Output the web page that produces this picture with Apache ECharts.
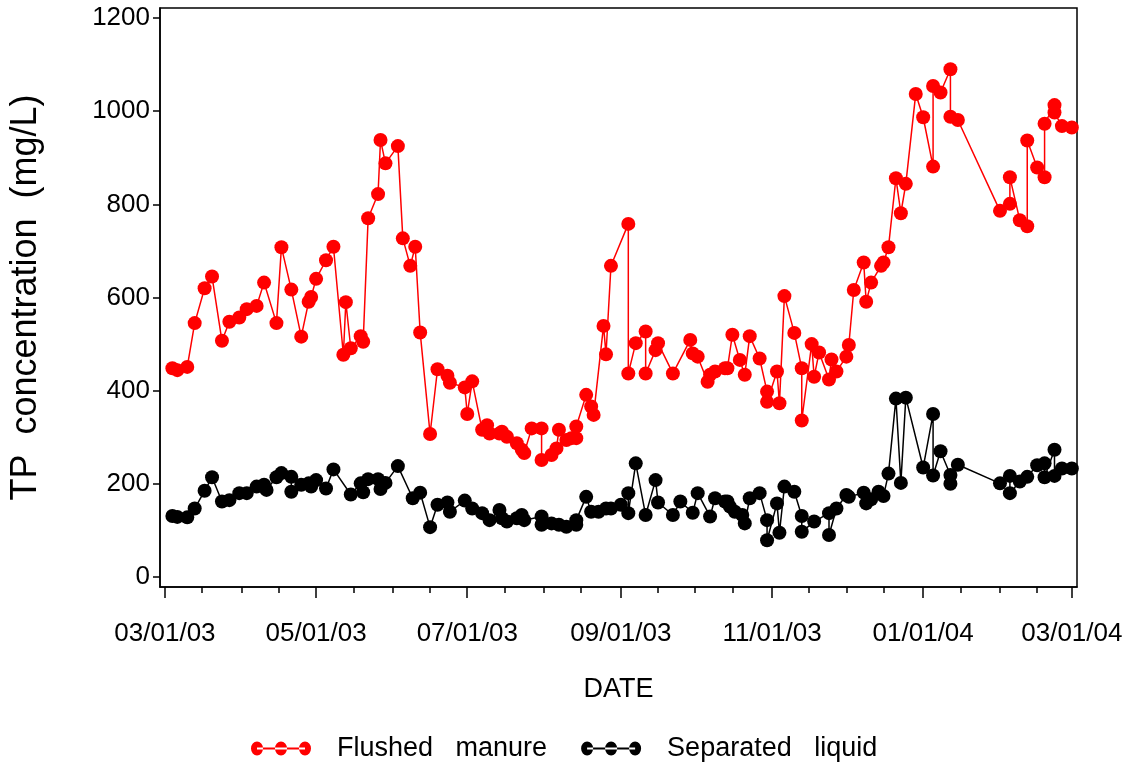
<!DOCTYPE html>
<html>
<head>
<meta charset="utf-8">
<script src="https://cdn.jsdelivr.net/npm/echarts@6/dist/echarts.min.js"></script>
<style>html,body{margin:0;padding:0;background:#fff}#c{width:1129px;height:763px}</style>
</head>
<body>
<div id="c"></div>
<script>
// ---- data ----
const flushedDates = ['2003-03-04','2003-03-06','2003-03-10','2003-03-13','2003-03-17','2003-03-20','2003-03-24','2003-03-27','2003-03-31','2003-04-03','2003-04-07','2003-04-10','2003-04-15','2003-04-17','2003-04-21','2003-04-25','2003-04-28','2003-04-29','2003-05-01','2003-05-05','2003-05-08','2003-05-12','2003-05-13','2003-05-15','2003-05-19','2003-05-20','2003-05-22','2003-05-26','2003-05-27','2003-05-29','2003-06-03','2003-06-05','2003-06-08','2003-06-10','2003-06-12','2003-06-16','2003-06-19','2003-06-23','2003-06-24','2003-06-30','2003-07-01','2003-07-03','2003-07-07','2003-07-09','2003-07-10','2003-07-14','2003-07-15','2003-07-17','2003-07-21','2003-07-23','2003-07-24','2003-07-27','2003-07-31','2003-07-31','2003-08-04','2003-08-06','2003-08-07','2003-08-10','2003-08-12','2003-08-14','2003-08-14','2003-08-18','2003-08-20','2003-08-21','2003-08-25','2003-08-26','2003-08-28','2003-09-04','2003-09-04','2003-09-07','2003-09-11','2003-09-11','2003-09-15','2003-09-16','2003-09-22','2003-09-29','2003-09-30','2003-10-02','2003-10-06','2003-10-07','2003-10-09','2003-10-13','2003-10-14','2003-10-16','2003-10-19','2003-10-21','2003-10-23','2003-10-27','2003-10-30','2003-10-30','2003-11-03','2003-11-04','2003-11-06','2003-11-10','2003-11-13','2003-11-13','2003-11-17','2003-11-18','2003-11-20','2003-11-24','2003-11-25','2003-11-27','2003-12-01','2003-12-02','2003-12-04','2003-12-08','2003-12-09','2003-12-11','2003-12-15','2003-12-16','2003-12-18','2003-12-21','2003-12-23','2003-12-25','2003-12-29','2004-01-01','2004-01-05','2004-01-05','2004-01-08','2004-01-12','2004-01-12','2004-01-15','2004-02-01','2004-02-05','2004-02-05','2004-02-09','2004-02-12','2004-02-12','2004-02-16','2004-02-19','2004-02-19','2004-02-23','2004-02-23','2004-02-26','2004-03-01'];
const flushedTP = [448,444,451,545,620,645,507,548,557,575,582,632,545,708,617,516,591,601,640,680,709,477,590,491,517,505,770,822,938,888,925,727,668,709,525,307,446,432,417,407,350,420,316,326,308,308,312,301,287,273,266,319,319,251,262,276,316,294,298,298,323,391,366,348,539,478,668,758,437,502,527,437,487,502,437,509,480,473,419,434,441,448,448,520,466,434,517,469,398,376,441,373,603,524,448,336,500,430,482,424,467,441,473,498,616,675,591,632,668,675,708,856,781,844,1037,987,881,1054,1040,1090,988,981,786,801,858,766,753,937,879,858,973,1013,997,968,965];

const liquidDates = ['2003-03-04','2003-03-06','2003-03-10','2003-03-13','2003-03-17','2003-03-20','2003-03-24','2003-03-27','2003-03-31','2003-04-03','2003-04-07','2003-04-10','2003-04-11','2003-04-15','2003-04-17','2003-04-21','2003-04-21','2003-04-25','2003-04-28','2003-04-29','2003-05-01','2003-05-05','2003-05-08','2003-05-15','2003-05-19','2003-05-20','2003-05-22','2003-05-26','2003-05-27','2003-05-29','2003-06-03','2003-06-09','2003-06-12','2003-06-16','2003-06-19','2003-06-23','2003-06-24','2003-06-30','2003-07-03','2003-07-07','2003-07-10','2003-07-14','2003-07-15','2003-07-17','2003-07-21','2003-07-23','2003-07-24','2003-07-31','2003-07-31','2003-08-04','2003-08-07','2003-08-10','2003-08-14','2003-08-14','2003-08-18','2003-08-20','2003-08-23','2003-08-26','2003-08-28','2003-09-01','2003-09-04','2003-09-04','2003-09-07','2003-09-11','2003-09-15','2003-09-16','2003-09-22','2003-09-25','2003-09-30','2003-10-02','2003-10-07','2003-10-09','2003-10-13','2003-10-14','2003-10-15','2003-10-17','2003-10-20','2003-10-21','2003-10-23','2003-10-27','2003-10-30','2003-10-30','2003-11-03','2003-11-04','2003-11-06','2003-11-10','2003-11-13','2003-11-13','2003-11-18','2003-11-24','2003-11-24','2003-11-27','2003-12-01','2003-12-02','2003-12-08','2003-12-09','2003-12-11','2003-12-14','2003-12-16','2003-12-18','2003-12-21','2003-12-23','2003-12-25','2004-01-01','2004-01-05','2004-01-05','2004-01-08','2004-01-12','2004-01-12','2004-01-15','2004-02-01','2004-02-05','2004-02-05','2004-02-09','2004-02-12','2004-02-16','2004-02-19','2004-02-19','2004-02-23','2004-02-23','2004-02-26','2004-03-01'];
const liquidTP = [131,129,128,147,185,214,162,165,180,180,194,198,187,214,223,215,183,198,201,194,208,190,231,177,201,182,210,210,189,202,238,169,181,107,155,160,140,164,147,137,122,144,126,119,126,133,122,130,112,115,112,108,112,122,172,140,140,147,147,155,180,137,244,133,208,160,133,162,138,180,130,169,162,162,151,140,133,115,169,180,122,79,158,95,194,183,131,97,119,137,90,147,176,172,181,158,167,183,174,222,383,202,385,235,350,218,270,219,200,241,201,217,180,205,215,240,244,214,273,217,233,233];

const majorTickLabels = ['03/01/03','05/01/03','07/01/03','09/01/03','11/01/03','01/01/04','03/01/04'];
const yTickValues = [0,200,400,600,800,1000,1200];
const seriesNames = ['Flushed manure','Separated liquid'];

// ---- helpers ----
function ts(s){ const p=s.split('-').map(Number); return new Date(p[0],p[1]-1,p[2]).getTime(); }
function tsLabel(l){ const p=l.split('/').map(Number); return new Date(2000+p[2],p[0]-1,p[1]).getTime(); }
const majorTicks = majorTickLabels.map(tsLabel);
const minorTicks = [];
for (let y=2003,m=2; !(y===2004 && m>2); ) {
  minorTicks.push(new Date(y,m,1).getTime());
  if (!(y===2004 && m===2)) minorTicks.push(new Date(y,m,16).getTime());
  m++; if (m>11){m=0;y++;}
}
const xMin = new Date(2003,1,27).getTime();
const xMax = new Date(2004,2,3,2).getTime();
const labelMap = {}; majorTicks.forEach((t,i)=>labelMap[t]=majorTickLabels[i]);

const FONT = "'Liberation Sans',Arial,sans-serif";
const ICON = 'path://M0,7a6,7 0 1,0 12,0a6,7 0 1,0 -12,0Z M24,7a6,7 0 1,0 12,0a6,7 0 1,0 -12,0Z M48,7a6,7 0 1,0 12,0a6,7 0 1,0 -12,0Z M6,6L54,6L54,8L6,8Z';

const chart = echarts.init(document.getElementById('c'), null, {renderer:'canvas'});
chart.setOption({
  animation:false,
  backgroundColor:'#fff',
  grid:{left:150,right:52,top:8,bottom:176,show:true,borderColor:'#000',borderWidth:1.5,backgroundColor:'transparent'},
  legend:{
    data:[{name:seriesNames[0],icon:ICON,itemStyle:{color:'#ff0000'}},{name:seriesNames[1],icon:ICON,itemStyle:{color:'#000'}}],
    left:246, top:730, itemWidth:60, itemHeight:14, itemGap:34,
    formatter:n=>n.replace(' ','   '),
    textStyle:{fontFamily:FONT,fontSize:27,color:'#000',padding:[0,0,0,21]}
  },
  xAxis:[{
    type:'value', min:xMin, max:xMax, position:'bottom',
    name:'DATE', nameLocation:'middle', nameGap:89,
    nameTextStyle:{fontFamily:FONT,fontSize:27,color:'#000'},
    splitLine:{show:false},
    axisLine:{show:true,onZero:false,lineStyle:{color:'#000',width:1.5}},
    axisTick:{show:true,length:11,customValues:majorTicks,lineStyle:{color:'#000',width:1.5}},
    axisLabel:{customValues:majorTicks,margin:34,fontFamily:FONT,fontSize:26,color:'#000',
      formatter:v=>labelMap[v]||''}
  },{
    type:'value', min:xMin, max:xMax, position:'bottom',
    splitLine:{show:false},
    axisLine:{show:false,onZero:false},
    axisTick:{show:true,length:6,customValues:minorTicks,lineStyle:{color:'#000',width:1.5}},
    axisLabel:{show:false}
  }],
  yAxis:{
    type:'value', min:-21.5, max:1221.5,
    name:'TP  concentration  (mg/L)', nameLocation:'middle', nameGap:116, nameRotate:90,
    nameTextStyle:{fontFamily:FONT,fontSize:36,color:'#000'},
    splitLine:{show:false},
    axisLine:{show:true,onZero:false,lineStyle:{color:'#000',width:1.5}},
    axisTick:{show:true,length:7,customValues:yTickValues,lineStyle:{color:'#000',width:1.5}},
    axisLabel:{customValues:yTickValues,margin:10,fontFamily:FONT,fontSize:26,color:'#000',
      formatter:v=>String(v)}
  },
  series:[{
    name:seriesNames[0], type:'line', xAxisIndex:0,
    data:flushedDates.map((d,i)=>[ts(d),flushedTP[i]]),
    symbol:'circle', symbolSize:14, color:'#ff0000',
    lineStyle:{color:'#ff0000',width:1.5}, itemStyle:{color:'#ff0000'}
  },{
    name:seriesNames[1], type:'line', xAxisIndex:0,
    data:liquidDates.map((d,i)=>[ts(d),liquidTP[i]]),
    symbol:'circle', symbolSize:14, color:'#000',
    lineStyle:{color:'#000',width:1.5}, itemStyle:{color:'#000'}
  }]
});
</script>
</body>
</html>
